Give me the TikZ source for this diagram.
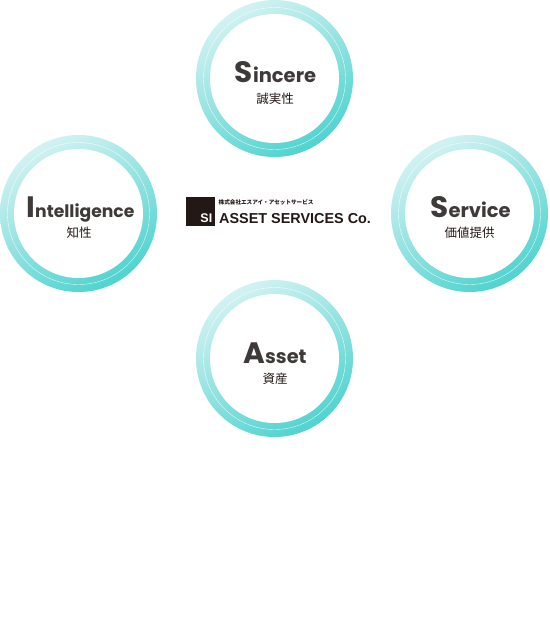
\documentclass[tikz,border=0pt]{standalone}
\usepackage{fontspec}
\newfontfamily\popf{Poppins}
\newfontfamily\jpf{Noto Sans CJK JP}
\newfontfamily\logof{Liberation Sans}[BoldFont=Liberation Sans Bold]
\definecolor{ringlight}{HTML}{D2F2F2}
\definecolor{ringdark}{HTML}{50D3CF}
\definecolor{inkgrey}{HTML}{3E3A39}
\definecolor{logoblack}{HTML}{231815}
\tikzset{
  ringdisc/.style={circle,minimum size=157pt,inner sep=0pt,outer sep=0pt,draw=none,
     shade,shading=axis,top color=ringlight,bottom color=ringdark,shading angle=30},
  ringline/.style={circle,minimum size=142pt,inner sep=0pt,draw=white,draw opacity=0.8,line width=0.4pt},
  ringcore/.style={circle,minimum size=129pt,inner sep=0pt,fill=white},
  wordlabel/.style={anchor=base,inner sep=0pt,text=inkgrey,font=\popf\bfseries},
  kanjilabel/.style={anchor=center,inner sep=0pt,text=logoblack,font=\jpf\fontsize{12.5}{13}\selectfont},
}
\newcommand{\capletter}[1]{{\fontsize{29.5}{30}\selectfont #1}}
\newcommand{\restword}[2]{{\fontsize{#1}{20}\selectfont #2}}
\begin{document}
\begin{tikzpicture}[x=1pt,y=-1pt]
\useasboundingbox (0,0) rectangle (549,620);
\fill[white] (0,0) rectangle (549,620);
% rings
\node[ringdisc] (sd) at (274.5,78.5) {};
\node[ringline] (sl) at (sd) {};
\node[ringcore] (sc) at (sd) {};
\node[ringdisc] (id) at (78.5,213.5) {};
\node[ringline] (il) at (id) {};
\node[ringcore] (ic) at (id) {};
\node[ringdisc] (vd) at (469.5,213.5) {};
\node[ringline] (vl) at (vd) {};
\node[ringcore] (vc) at (vd) {};
\node[ringdisc] (ad) at (274.5,358.5) {};
\node[ringline] (al) at (ad) {};
\node[ringcore] (ac) at (ad) {};
% labels
\node[wordlabel] (sw) at (275.5,82.7) {\capletter{S}\restword{19.5}{incere}};
\node[kanjilabel] (sk) at (275,98.5) {誠実性};
\node[wordlabel] (iw) at (80.5,217.3) {\capletter{I}\restword{17.2}{ntelligence}};
\node[kanjilabel] (ik) at (79,232.7) {知性};
\node[wordlabel] (vw) at (470.5,217.3) {\capletter{S}\restword{19.5}{ervice}};
\node[kanjilabel] (vk) at (469.5,232.7) {価値提供};
\node[wordlabel] (aw) at (275,363) {\capletter{A}\restword{19.4}{sset}};
\node[kanjilabel] (ak) at (275,379) {資産};
% logo
\node[fill=logoblack,minimum size=29pt,inner sep=0pt,anchor=north west] (lb) at (186,197) {};
\node[anchor=base east,inner sep=0pt,text=white,font=\logof\bfseries\fontsize{12.5}{13}\selectfont] (ls) at (212.5,222.7) {SI};
\node[anchor=base west,inner sep=0pt,text=logoblack,font=\logof\bfseries\fontsize{14.4}{15}\selectfont] (lt) at (219,223.2) {ASSET SERVICES Co.};
\node[anchor=west,inner sep=0pt,text=logoblack,font=\jpf\bfseries\fontsize{5.6}{6}\selectfont] (lj) at (218.5,202.5) {株式会社エスアイ・アセットサービス};
\end{tikzpicture}
\end{document}
